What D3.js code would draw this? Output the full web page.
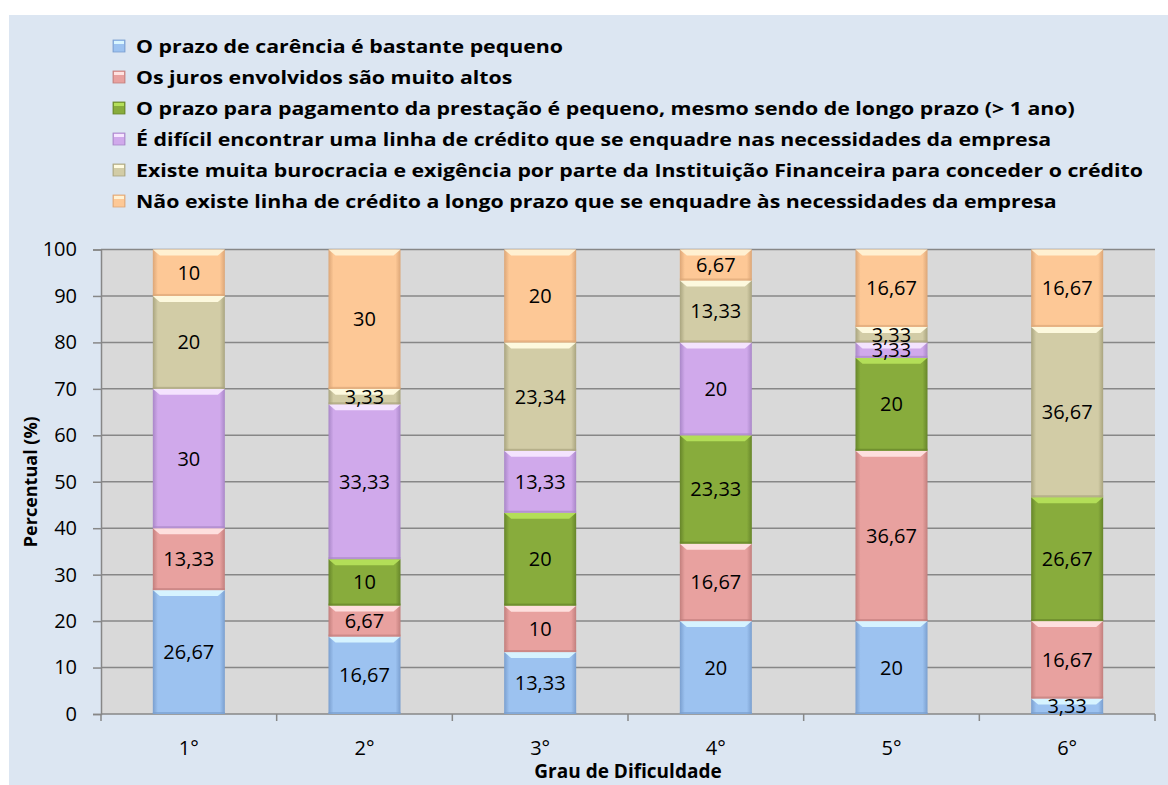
<!DOCTYPE html>
<meta charset="utf-8">
<style>
body { margin: 0; background: #fff; }
text { font-family: "Open Sans", sans-serif; fill: #000; }
</style>
<svg></svg>
<script src="https://d3js.org/d3.v7.min.js"></script>
<script>

var width = 1168, height = 785;

// categories and series, bottom of stack first
var categories = ["1°", "2°", "3°", "4°", "5°", "6°"];
var seriesNames = [
  "O prazo de carência é bastante pequeno",
  "Os juros envolvidos são muito altos",
  "O prazo para pagamento da prestação é pequeno, mesmo sendo de longo prazo (> 1 ano)",
  "É difícil encontrar uma linha de crédito que se enquadre nas necessidades da empresa",
  "Existe muita burocracia e exigência por parte da Instituição Financeira para conceder o crédito",
  "Não existe linha de crédito a longo prazo que se enquadre às necessidades da empresa"
];
var carencia   = [26.67, 16.67, 13.33, 20, 20, 3.33];
var juros      = [13.33, 6.67, 10, 16.67, 36.67, 16.67];
var prazoPag   = [0, 10, 20, 23.33, 20, 26.67];
var dificil    = [30, 33.33, 13.33, 20, 3.33, 0];
var burocracia = [20, 3.33, 23.34, 13.33, 3.33, 36.67];
var naoExiste  = [10, 30, 20, 6.67, 16.67, 16.67];
var yTicks = [0, 10, 20, 30, 40, 50, 60, 70, 80, 90, 100];

var seriesValues = [carencia, juros, prazoPag, dificil, burocracia, naoExiste];

var colors = [
  {base: "#9cc2f0", edge: "#7a9fcf", hi: "#d9f6ff"},
  {base: "#e8a19f", edge: "#c27f7d", hi: "#ffe3e1"},
  {base: "#88ac3c", edge: "#66852a", hi: "#b5e05a"},
  {base: "#d0a9eb", edge: "#a987c8", hi: "#f6e6ff"},
  {base: "#d2cca6", edge: "#a9a47f", hi: "#fffbe0"},
  {base: "#fdc896", edge: "#dca677", hi: "#fff2d4"}
];

var margin = {left: 101, right: 13, top: 249.5, bottom: 71};

var svg = d3.select("svg")
    .attr("width", width)
    .attr("height", height);

var defs = svg.append("defs");
colors.forEach(function(c, i) {
  var g = defs.append("linearGradient").attr("id", "grad" + i)
      .attr("x1", 0).attr("x2", 1).attr("y1", 0).attr("y2", 0);
  g.append("stop").attr("offset", "0%").attr("stop-color", c.edge);
  g.append("stop").attr("offset", "7%").attr("stop-color", c.base);
  g.append("stop").attr("offset", "93%").attr("stop-color", c.base);
  g.append("stop").attr("offset", "100%").attr("stop-color", c.edge);
});

// chart background
svg.append("rect")
    .attr("x", 9).attr("y", 15)
    .attr("width", width - 9).attr("height", height - 15)
    .attr("fill", "#dce6f2");

var x = d3.scaleBand()
    .domain(categories)
    .range([margin.left, width - margin.right])
    .paddingInner(0.59)
    .paddingOuter(0.295);

var y = d3.scaleLinear()
    .domain([0, 100])
    .range([height - margin.bottom, margin.top]);

var plotLeft = margin.left, plotRight = width - margin.right;

svg.append("rect")
    .attr("x", plotLeft).attr("y", y(100))
    .attr("width", plotRight - plotLeft).attr("height", y(0) - y(100))
    .attr("fill", "#d9d9d9");

// gridlines
svg.append("g")
  .selectAll("line")
  .data(yTicks.slice(1))
  .enter().append("line")
    .attr("x1", plotLeft).attr("x2", plotRight)
    .attr("y1", function(d) { return y(d); })
    .attr("y2", function(d) { return y(d); })
    .attr("stroke", "#878787")
    .attr("stroke-width", 1.5);

// y axis
var yAxis = svg.append("g")
    .attr("transform", "translate(" + plotLeft + ",0)")
    .call(d3.axisLeft(y).tickValues(yTicks).tickSize(8).tickPadding(16));
yAxis.select(".domain").attr("stroke", "#878787").attr("stroke-width", 1.5);
yAxis.selectAll(".tick line").attr("stroke", "#878787").attr("stroke-width", 1.5);
yAxis.selectAll(".tick text")
    .style("font-size", "20px")
    .style("font-family", "'Open Sans', sans-serif")
    .attr("fill", "#000");

// x axis
var xAxis = svg.append("g")
    .attr("transform", "translate(0," + y(0) + ")");
xAxis.append("line")
    .attr("x1", plotLeft).attr("x2", plotRight)
    .attr("stroke", "#878787").attr("stroke-width", 1.5);
var tickXs = d3.range(categories.length + 1).map(function(i) {
  return plotLeft + i * (plotRight - plotLeft) / categories.length;
});
xAxis.selectAll("line.t").data(tickXs).enter().append("line")
    .attr("class", "t")
    .attr("x1", function(d) { return d; }).attr("x2", function(d) { return d; })
    .attr("y1", 0).attr("y2", 7)
    .attr("stroke", "#878787").attr("stroke-width", 1.5);
xAxis.selectAll("text").data(categories).enter().append("text")
    .attr("x", function(d) { return x(d) + x.bandwidth() / 2; })
    .attr("y", 41)
    .attr("text-anchor", "middle")
    .style("font-size", "20px")
    .text(function(d) { return d; });

// stacked bars
var rows = categories.map(function(c, i) {
  var r = {cat: c};
  seriesValues.forEach(function(s, j) { r["s" + j] = s[i]; });
  return r;
});
var stack = d3.stack().keys(seriesValues.map(function(s, j) { return "s" + j; }));
var layers = stack(rows);

var fmt = function(v) { return String(v).replace(".", ","); };

layers.forEach(function(layer, j) {
  var g = svg.append("g");
  var segs = layer.filter(function(d) { return d[1] - d[0] > 0; });
  var bw = x.bandwidth();

  g.selectAll("rect").data(segs).enter().append("rect")
      .attr("x", function(d) { return x(d.data.cat); })
      .attr("y", function(d) { return y(d[1]); })
      .attr("width", bw)
      .attr("height", function(d) { return y(d[0]) - y(d[1]); })
      .attr("fill", "url(#grad" + j + ")");

  // bevel highlight along the top
  g.selectAll("path.hi").data(segs).enter().append("path")
      .attr("class", "hi")
      .attr("d", function(d) {
        var x0 = x(d.data.cat), y0 = y(d[1]);
        var h = Math.min(6, (y(d[0]) - y(d[1])) / 2);
        return "M" + x0 + "," + y0 + "L" + (x0 + bw) + "," + y0 +
               "L" + (x0 + bw - 7) + "," + (y0 + h) + "L" + (x0 + 7) + "," + (y0 + h) + "Z";
      })
      .attr("fill", colors[j].hi)
      .attr("opacity", 0.95);

  // bottom shade
  g.selectAll("rect.sh").data(segs).enter().append("rect")
      .attr("class", "sh")
      .attr("x", function(d) { return x(d.data.cat); })
      .attr("y", function(d) { return y(d[0]) - 2; })
      .attr("width", bw)
      .attr("height", 2)
      .attr("fill", colors[j].edge)
      .attr("opacity", 0.7);

  g.selectAll("text").data(segs).enter().append("text")
      .attr("x", function(d) { return x(d.data.cat) + bw / 2; })
      .attr("y", function(d) { return y((d[0] + d[1]) / 2) + 7; })
      .attr("text-anchor", "middle")
      .style("font-size", "20px")
      .text(function(d) { return fmt(seriesValues[j][categories.indexOf(d.data.cat)]); });
});

// legend
var legend = svg.append("g");
var legendRows = legend.selectAll("g").data(seriesNames).enter().append("g")
    .attr("transform", function(d, i) { return "translate(113," + (46 + i * 31) + ")"; });
legendRows.append("rect")
    .attr("x", 0).attr("y", -6).attr("width", 12).attr("height", 12)
    .attr("fill", function(d, i) { return "url(#grad" + i + ")"; })
    .attr("stroke", function(d, i) { return colors[i].edge; })
    .attr("stroke-width", 0.8);
legendRows.append("rect")
    .attr("x", 1).attr("y", -5).attr("width", 10).attr("height", 3)
    .attr("fill", function(d, i) { return colors[i].hi; });
var ltext = legendRows.append("text")
    .attr("x", 23).attr("y", 7)
    .style("font-size", "18px")
    .style("font-weight", "bold")
    .text(function(d) { return d; });
var maxW = d3.max(ltext.nodes(), function(n) { return n.getComputedTextLength(); });
var k = 1007 / maxW;
ltext.each(function() {
  var w = this.getComputedTextLength();
  d3.select(this).attr("textLength", w * k).attr("lengthAdjust", "spacingAndGlyphs");
});

// axis titles
svg.append("text")
    .attr("transform", "translate(37," + ((y(0) + y(100)) / 2) + ") rotate(-90)")
    .attr("text-anchor", "middle")
    .style("font-size", "18px")
    .style("font-weight", "bold")
    .text("Percentual (%)");

svg.append("text")
    .attr("x", (plotLeft + plotRight) / 2)
    .attr("y", 778)
    .attr("text-anchor", "middle")
    .style("font-size", "19px")
    .style("font-weight", "bold")
    .text("Grau de Dificuldade");

</script>
